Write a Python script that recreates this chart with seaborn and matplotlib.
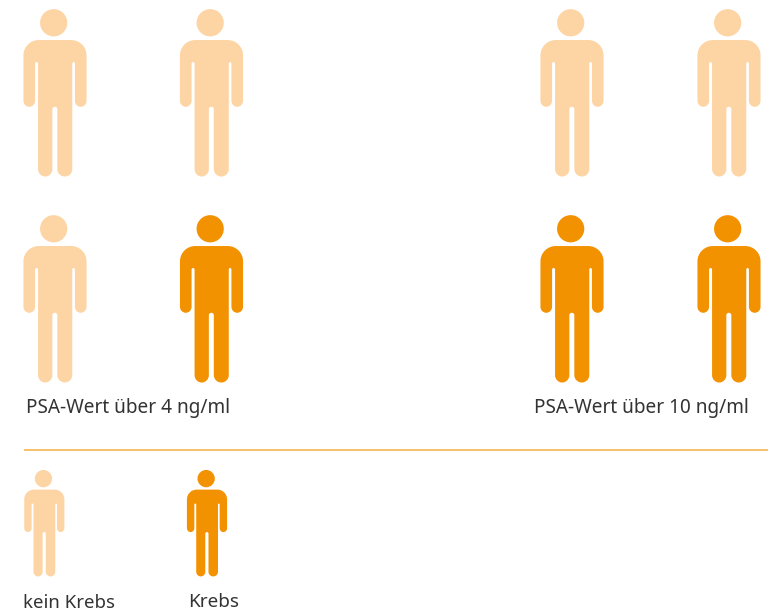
import matplotlib
matplotlib.use("Agg")
import matplotlib.pyplot as plt
import numpy as np
import pandas as pd
import seaborn as sns
from matplotlib.path import Path

# values: 4 men per panel, how many of them have cancer
panel_labels = ["PSA-Wert über 4 ng/ml", "PSA-Wert über 10 ng/ml"]
men_total = [4, 4]
men_cancer = [1, 2]
legend_labels = ["kein Krebs", "Krebs"]

LIGHT = "#FDD5A5"
ORANGE = "#F39200"
TEXT = "#333333"
colors = {"kein Krebs": LIGHT, "Krebs": ORANGE}

sns.set_theme(style="white")
plt.rcParams["font.family"] = ["Noto Sans", "DejaVu Sans"]


def person_marker():
    M, L, C, Z = Path.MOVETO, Path.LINETO, Path.CURVE4, Path.CLOSEPOLY
    verts, codes = [], []
    K = 0.5523

    def move(p):
        verts.append(p)
        codes.append(M)

    def line(p):
        verts.append(p)
        codes.append(L)

    def arc(p0, corner, p1):
        # quarter ellipse from p0 to p1, bending round corner
        c1 = (p0[0] + K * (corner[0] - p0[0]), p0[1] + K * (corner[1] - p0[1]))
        c2 = (p1[0] + K * (corner[0] - p1[0]), p1[1] + K * (corner[1] - p1[1]))
        verts.extend([c1, c2, p1])
        codes.extend([C, C, C])

    def close(p):
        verts.append(p)
        codes.append(Z)

    # head
    cx, cy, r = 161, 67, 41
    move((cx + r, cy))
    arc((cx + r, cy), (cx + r, cy + r), (cx, cy + r))
    arc((cx, cy + r), (cx - r, cy + r), (cx - r, cy))
    arc((cx - r, cy), (cx - r, cy - r), (cx, cy - r))
    arc((cx, cy - r), (cx + r, cy - r), (cx + r, cy))
    close((cx + r, cy))

    # body, clockwise from the left shoulder
    move((70, 165))
    arc((70, 165), (70, 119), (116, 119))
    line((214, 119))
    arc((214, 119), (260, 119), (260, 165))
    line((260, 302))
    arc((260, 302), (260, 320), (242.5, 320))
    arc((242.5, 320), (225, 320), (225, 302))
    line((225, 190))
    arc((225, 190), (225, 185), (221, 185))
    arc((221, 185), (217, 185), (217, 190))
    line((217, 508))
    arc((217, 508), (217, 530), (194.5, 530))
    arc((194.5, 530), (172, 530), (172, 508))
    line((172, 327))
    arc((172, 327), (172, 320), (164.5, 320))
    arc((164.5, 320), (157, 320), (157, 327))
    line((157, 508))
    arc((157, 508), (157, 530), (135.5, 530))
    arc((135.5, 530), (114, 530), (114, 508))
    line((114, 190))
    arc((114, 190), (114, 185), (109.5, 185))
    arc((109.5, 185), (105, 185), (105, 190))
    line((105, 302))
    arc((105, 302), (105, 320), (87.5, 320))
    arc((87.5, 320), (70, 320), (70, 302))
    line((70, 165))
    close((70, 165))

    verts = np.array(verts, dtype=float)
    verts[:, 0] -= 165
    verts[:, 1] = 278.5 - verts[:, 1]
    return Path(verts, codes)


person = person_marker()

# layout in picture pixels
panel_x = [[55, 211.5], [572, 729]]
row_y = [93, 299]
rows = []
for p, (total, cancer) in enumerate(zip(men_total, men_cancer)):
    for i in range(total):
        status = "Krebs" if i >= total - cancer else "kein Krebs"
        rows.append({"x": panel_x[p][i % 2], "y": row_y[i // 2], "status": status})
men = pd.DataFrame(rows)
key = pd.DataFrame({"x": [44.3, 207], "y": [523.3, 523.3], "status": legend_labels})

fig = plt.figure(figsize=(7.68, 6.11), dpi=100)
ax = fig.add_axes([0, 0, 1, 1])


def height_to_s(px):
    # custom markers are scaled so their full height is sqrt(s) points
    return (px * 72 / 100) ** 2


sns.scatterplot(data=men, x="x", y="y", hue="status", palette=colors, marker=person,
                s=height_to_s(167.7), linewidth=0, legend=False, ax=ax)
sns.scatterplot(data=key, x="x", y="y", hue="status", palette=colors, marker=person,
                s=height_to_s(106.7), linewidth=0, legend=False, ax=ax)

ax.set_xlim(0, 768)
ax.set_ylim(611, 0)
ax.axis("off")

ax.plot([24, 768], [450, 450], color="#F6B54F", lw=1.2, solid_capstyle="butt")

ax.text(26, 408, panel_labels[0], fontsize=13.7, color=TEXT, va="center", ha="left")
ax.text(534, 408, panel_labels[1], fontsize=13.7, color=TEXT, va="center", ha="left")
ax.text(23, 603, legend_labels[0], fontsize=13.4, color=TEXT, va="center", ha="left")
ax.text(188, 602, legend_labels[1], fontsize=13.6, color=TEXT, va="center", ha="left")

fig.savefig("out.png", dpi=100)
